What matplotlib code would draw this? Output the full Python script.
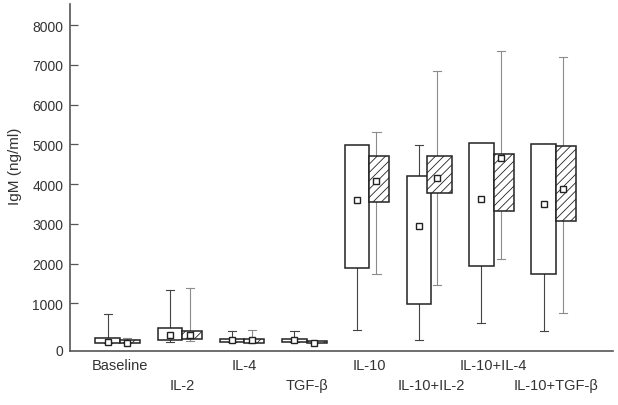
import matplotlib.pyplot as plt
import matplotlib.patches as mpatches

plt.rcParams['font.family'] = ['Liberation Sans', 'DejaVu Sans']
plt.rcParams['hatch.linewidth'] = 0.6

categories = ['Baseline', 'IL-2', 'IL-4', 'TGF-β', 'IL-10', 'IL-10+IL-2', 'IL-10+IL-4', 'IL-10+TGF-β']

# open boxes
open_q1 = [10, 85, 20, 35, 1896, 983, 1931, 1745]
open_q3 = [128, 372, 103, 103, 4990, 4210, 5025, 5000]
open_low = [10, 35, 20, 35, 322, 86, 506, 304]
open_high = [724, 1343, 312, 312, 4990, 4990, 5025, 5000]
open_mean = [35, 204, 70, 70, 3599, 2953, 3624, 3491]

# hatched boxes
hat_q1 = [0, 103, 0, 0, 3541, 3775, 3322, 3078]
hat_q3 = [78, 312, 110, 45, 4698, 4698, 4763, 4957]
hat_low = [0, 45, 0, 0, 1730, 1469, 2108, 757]
hat_high = [120, 1378, 322, 45, 5302, 6836, 7354, 7188]
hat_mean = [10, 204, 85, 0, 4069, 4160, 4655, 3868]

# layout of the hatched boxes (one is shifted / wider in the original)
hat_shift = [0, 0, 0, 0, 0, -0.07, 0, 0]
hat_width = [0.32, 0.32, 0.32, 0.32, 0.32, 0.41, 0.32, 0.32]
open_width = 0.393

fig = plt.figure(figsize=(6.18, 4.06), dpi=100)
ax = fig.add_axes([70 / 618, 1 - 351.7 / 406, 543 / 618, 346.7 / 406])

cap = 0.065
for k in range(len(categories)):
    # open box
    xo = k - open_width / 2
    ax.plot([xo, xo], [open_low[k], open_high[k]], color='#444444', lw=0.8, zorder=1)
    ax.plot([xo - cap, xo + cap], [open_high[k]] * 2, color='#444444', lw=0.8, zorder=1)
    ax.plot([xo - cap, xo + cap], [open_low[k]] * 2, color='#444444', lw=0.8, zorder=1)
    ax.add_patch(mpatches.Rectangle((k - open_width, open_q1[k]), open_width,
                                    open_q3[k] - open_q1[k], facecolor='white',
                                    edgecolor='#222222', lw=1.1, zorder=2))
    ax.plot(xo, open_mean[k], 's', ms=4.3, mfc='white', mec='#222222', mew=1.0, zorder=5)

    # hatched box
    left = k + hat_shift[k]
    xh = left + hat_width[k] / 2 - 0.04
    ax.plot([xh, xh], [hat_low[k], hat_high[k]], color='#8c8c8c', lw=0.8, zorder=3)
    ax.plot([xh - cap, xh + cap], [hat_high[k]] * 2, color='#8c8c8c', lw=0.8, zorder=3)
    ax.plot([xh - cap, xh + cap], [hat_low[k]] * 2, color='#8c8c8c', lw=0.8, zorder=3)
    ax.add_patch(mpatches.Rectangle((left, hat_q1[k]), hat_width[k],
                                    hat_q3[k] - hat_q1[k], facecolor='white',
                                    edgecolor='#222222', hatch='////', lw=1.1, zorder=4))
    ax.plot(xh, hat_mean[k], 's', ms=4.3, mfc='white', mec='#222222', mew=1.0, zorder=5)

ax.set_xlim(-0.80, 7.917)
ax.set_ylim(-190, 8530)

ax.spines['top'].set_visible(False)
ax.spines['right'].set_visible(False)
for s in ['left', 'bottom']:
    ax.spines[s].set_color('#555555')
    ax.spines[s].set_linewidth(1.2)

ax.set_yticks(range(1000, 9000, 1000))
ax.tick_params(axis='y', direction='in', length=6, width=0.9, color='#555555',
               pad=4.8, labelsize=10, labelcolor='#333333')
ax.annotate('0', xy=(0, 0), xycoords=('axes fraction', 'data'), xytext=(-4.8, -5.5),
            textcoords='offset points', ha='right', va='center', fontsize=10,
            color='#333333')

ax.set_xticks(range(len(categories)), labels=categories)
ax.tick_params(axis='x', length=0, pad=5, labelsize=10.5, labelcolor='#333333')
for i, t in enumerate(ax.xaxis.get_major_ticks()):
    if i % 2:
        t.set_pad(19.5)

fig.text(15.5 / 618, 1 - 166 / 406, 'IgM (ng/ml)', rotation=90, ha='center', va='center',
         fontsize=11, color='#333333')

fig.savefig('out.png', dpi=100)
